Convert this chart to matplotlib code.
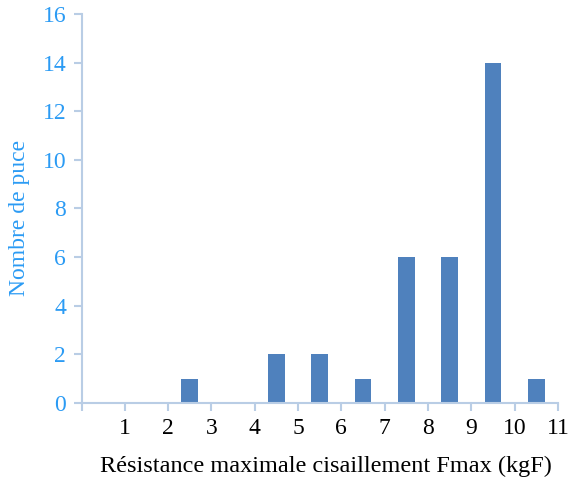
import matplotlib.pyplot as plt

plt.rcParams['font.family'] = ['Liberation Serif', 'DejaVu Serif']

# Histogramme de la resistance au cisaillement
positions = [2.5, 4.5, 5.5, 6.5, 7.5, 8.5, 9.5, 10.5]
counts = [1, 2, 2, 1, 6, 6, 14, 1]
xticks = list(range(0, 12))
xlabels = [''] + [str(i) for i in range(1, 12)]
yticks = list(range(0, 17, 2))

axis_color = '#b9cde5'
label_blue = '#2b9bf4'

fig = plt.figure(figsize=(5.74, 4.79), dpi=100)
ax = fig.add_axes([0.142, 0.159, 0.83, 0.812])

ax.bar(positions, counts, width=0.39, color='#4f81bd', zorder=2)

ax.set_xlim(0, 11)
ax.set_ylim(0, 16)
ax.set_xticks(xticks)
ax.set_xticklabels(xlabels)
ax.set_yticks(yticks)

for s in ['top', 'right']:
    ax.spines[s].set_visible(False)
for s in ['left', 'bottom']:
    ax.spines[s].set_color(axis_color)
    ax.spines[s].set_linewidth(1.5)

ax.tick_params(axis='x', colors=axis_color, labelcolor='black', labelsize=17,
               length=6, width=1.5, pad=5)
ax.tick_params(axis='y', colors=axis_color, labelcolor=label_blue, labelsize=17,
               length=6, width=1.5, pad=5)

ax.set_xlabel('Résistance maximale cisaillement Fmax (kgF)', fontsize=17.5)
ax.set_ylabel('Nombre de puce', fontsize=17, color=label_blue)
ax.xaxis.set_label_coords(0.513, -0.135)
ax.yaxis.set_label_coords(-0.108, 0.476)

fig.savefig('out.png', dpi=100)
